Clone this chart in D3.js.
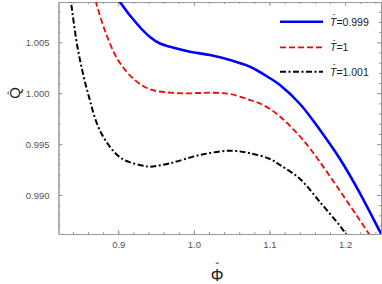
<!DOCTYPE html>
<html>
<head>
<meta charset="utf-8">
<style>
  body { margin: 0; background: #fff; }
  svg { display: block; font-family: 'Liberation Sans', Arial, sans-serif; }
  .axis path { stroke: #999; }
  .axis line { stroke: #999; }
  .axis text { fill: #555; font-size: 9.5px; }
</style>
</head>
<body>
<script src="https://cdn.jsdelivr.net/npm/d3@7"></script>
<script>

// curves: phi (x) and Q (y)
var phiBlue = [0.8970, 0.9023, 0.9261, 0.9420, 0.9552, 0.9685, 0.9949, 1.0214, 1.0478, 1.0743, 1.1007, 1.1139, 1.1404, 1.1668, 1.1933, 1.2197, 1.2462, 1.2528];
var qBlue   = [1.00965, 1.00896, 1.00670, 1.00552, 1.00488, 1.00457, 1.00408, 1.00375, 1.00326, 1.00260, 1.00147, 1.00081, 0.99894, 0.99639, 0.99354, 0.99017, 0.98640, 0.98548];

var phiRed = [0.8666, 0.8697, 0.8821, 0.8997, 0.9218, 0.9420, 0.9685, 0.9949, 1.0214, 1.0478, 1.0743, 1.0875, 1.1007, 1.1139, 1.1272, 1.1404, 1.1536, 1.1668, 1.1933, 1.2197, 1.2303, 1.2356];
var qRed   = [1.00994, 1.00916, 1.00621, 1.00326, 1.00130, 1.00038, 1.00005, 0.99999, 1.00005, 0.99992, 0.99933, 0.99899, 0.99845, 0.99771, 0.99678, 0.99575, 0.99457, 0.99324, 0.99040, 0.98750, 0.98632, 0.98573];

var phiBlack = [0.8355, 0.8371, 0.8468, 0.8600, 0.8776, 0.9041, 0.9350, 0.9420, 0.9685, 1.0081, 1.0478, 1.0743, 1.1007, 1.1139, 1.1404, 1.1668, 1.1933, 1.2021, 1.2065];
var qBlack   = [1.00994, 1.00916, 1.00425, 0.99999, 0.99606, 0.99361, 0.99285, 0.99278, 0.99312, 0.99393, 0.99435, 0.99410, 0.99354, 0.99295, 0.99157, 0.98931, 0.98696, 0.98607, 0.98563];

var legendLabels = ["0.999", "1", "1.001"];
var xTicks = [0.9, 1.0, 1.1, 1.2];
var yTicks = [0.990, 0.995, 1.000, 1.005];

var width = 382, height = 284;
var mLeft = 58.5, mRight = 381, mTop = 2, mBottom = 234;

var svg = d3.select("body").append("svg")
    .attr("width", width)
    .attr("height", height);

var x = d3.scaleLinear().domain([0.821, 1.2475]).range([mLeft, mRight]);
var y = d3.scaleLinear().domain([0.98617, 1.00896]).range([mBottom, mTop]);

var xMinor = d3.range(0.82, 1.26, 0.02).filter(function(v) { return v >= 0.821 && v <= 1.2475; });
var yMinor = d3.range(0.987, 1.009, 0.001);

svg.append("defs").append("clipPath").attr("id", "clip")
  .append("rect")
    .attr("x", mLeft).attr("y", mTop)
    .attr("width", mRight - mLeft).attr("height", mBottom - mTop);

// frame with ticks on all sides
function frameAxis(axis, tr) {
  return svg.append("g").attr("class", "axis").attr("transform", tr).call(axis);
}

frameAxis(d3.axisBottom(x).tickValues(xMinor).tickSizeInner(-2).tickSizeOuter(0).tickFormat(""), "translate(0," + mBottom + ")");
frameAxis(d3.axisTop(x).tickValues(xMinor).tickSizeInner(-2).tickSizeOuter(0).tickFormat(""), "translate(0," + mTop + ")");
frameAxis(d3.axisLeft(y).tickValues(yMinor).tickSizeInner(-2).tickSizeOuter(0).tickFormat(""), "translate(" + mLeft + ",0)");
frameAxis(d3.axisRight(y).tickValues(yMinor).tickSizeInner(-2).tickSizeOuter(0).tickFormat(""), "translate(" + mRight + ",0)");

frameAxis(d3.axisBottom(x).tickValues(xTicks).tickSizeInner(-4).tickSizeOuter(0).tickPadding(7).tickFormat(d3.format(".1f")), "translate(0," + mBottom + ")");
frameAxis(d3.axisTop(x).tickValues(xTicks).tickSizeInner(-4).tickSizeOuter(0).tickFormat(""), "translate(0," + mTop + ")");
frameAxis(d3.axisLeft(y).tickValues(yTicks).tickSizeInner(-4).tickSizeOuter(0).tickPadding(9).tickFormat(d3.format(".3f")), "translate(" + mLeft + ",0)");
frameAxis(d3.axisRight(y).tickValues(yTicks).tickSizeInner(-4).tickSizeOuter(0).tickFormat(""), "translate(" + mRight + ",0)");

var series = [
  { phi: phiBlue, q: qBlue, color: "#0000ff", width: 2.6, dash: null },
  { phi: phiRed, q: qRed, color: "#ff0000", width: 1.8, dash: "6,3" },
  { phi: phiBlack, q: qBlack, color: "#000000", width: 2, dash: "6,2.5,2,2.5" }
];

var line = d3.line()
    .x(function(d) { return x(d[0]); })
    .y(function(d) { return y(d[1]); })
    .curve(d3.curveCatmullRom);

var plot = svg.append("g").attr("clip-path", "url(#clip)");

series.forEach(function(s) {
  plot.append("path")
      .datum(d3.zip(s.phi, s.q))
      .attr("fill", "none")
      .attr("stroke", s.color)
      .attr("stroke-width", s.width)
      .attr("stroke-dasharray", s.dash)
      .attr("d", line);
});

// legend
var legY = [21.7, 47.3, 71.7];
series.forEach(function(s, i) {
  svg.append("line")
      .attr("x1", 280).attr("x2", 323)
      .attr("y1", legY[i]).attr("y2", legY[i])
      .attr("stroke", s.color)
      .attr("stroke-width", s.width)
      .attr("stroke-dasharray", s.dash);
  var t = svg.append("text")
      .attr("x", 330).attr("y", legY[i] + 3.8)
      .attr("font-size", 10.5)
      .attr("fill", "#222");
  t.append("tspan").attr("font-style", "italic").text("T");
  t.append("tspan").attr("font-size", 8).attr("dx", -3.6).attr("dy", -6.5).text("\u02C6");
  t.append("tspan").attr("dx", 0.9).attr("dy", 6.5).text("=" + legendLabels[i]);
});

// axis titles, hat drawn as its own glyph
var qLab = svg.append("text")
    .attr("transform", "translate(20,93) rotate(-90)")
    .attr("x", -5.8)
    .attr("font-size", 15)
    .attr("fill", "#222");
qLab.append("tspan").text("Q");
qLab.append("tspan").attr("font-size", 11).attr("dx", -7.6).attr("dy", -4).text("\u02C6");

var pLab = svg.append("text")
    .attr("x", 210.8).attr("y", 280.5)
    .attr("font-size", 16)
    .attr("fill", "#222");
pLab.append("tspan").text("\u03A6");
pLab.append("tspan").attr("font-size", 11).attr("dx", -8.1).attr("dy", -9.4).text("\u02C6");

</script>
</body>
</html>
